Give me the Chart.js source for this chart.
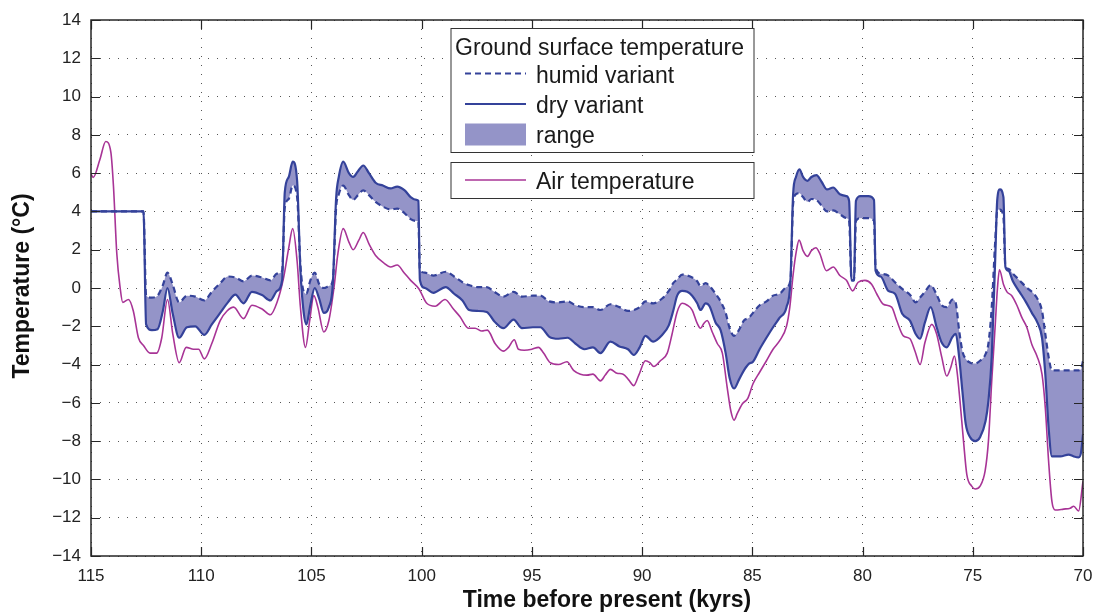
<!DOCTYPE html>
<html>
<head>
<meta charset="utf-8">
<title>Ground surface temperature</title>
<script src="https://cdn.jsdelivr.net/npm/chart.js@4.4.1/dist/chart.umd.min.js"></script>
<style>
  html, body { margin: 0; padding: 0; background: #fff; }
  #wrap { width: 1097px; height: 614px; position: relative; }
</style>
</head>
<body>
<div id="wrap"><canvas id="tempChart"></canvas></div>
<script>
// kyrs before present, shared by both ground surface variants
const groundX = [115, 112.62, 112.5, 112.24, 111.98, 111.74, 111.53, 111.30, 111.0, 110.65,
    110.27, 109.86, 109.52, 109.14, 108.79, 108.45, 108.08, 107.70, 107.24, 106.86,
    106.56, 106.33, 106.21, 106.03, 105.85, 105.65, 105.5, 105.35, 105.23, 105.05,
    104.85, 104.65, 104.44, 104.21, 104.03, 103.88, 103.76, 103.56, 103.30, 103.11,
    102.89, 102.65, 102.39, 102.09, 101.76, 101.41, 101.11, 100.77, 100.5, 100.23,
    100.15, 100.08, 99.85, 99.47, 98.91, 98.53, 98.15, 97.85, 97.47, 97.05,
    96.70, 96.29, 95.83, 95.45, 94.95, 94.62, 94.21, 93.79, 93.38, 93.03,
    92.62, 92.23, 91.89, 91.44, 91.03, 90.64, 90.38, 90.11, 89.85, 89.5,
    89.09, 88.79, 88.59, 88.41, 88.18, 87.95, 87.73, 87.5, 87.35, 87.12,
    86.94, 86.67, 86.44, 86.21, 86.03, 85.83, 85.61, 85.38, 85.15, 84.97,
    84.67, 84.36, 84.06, 83.76, 83.45, 83.27, 83.15, 83.02, 82.86, 82.70,
    82.5, 82.32, 82.09, 81.86, 81.61, 81.33, 81.03, 80.73, 80.61, 80.5,
    80.39, 80.30, 80.09, 79.74, 79.48, 79.41, 79.18, 78.83, 78.53, 78.20,
    77.85, 77.59, 77.39, 77.17, 76.91, 76.64, 76.41, 76.18, 75.92, 75.77,
    75.62, 75.47, 75.32, 75.12, 74.89, 74.67, 74.42, 74.29, 74.14, 73.98,
    73.89, 73.77, 73.61, 73.52, 73.38, 73.18, 72.88, 72.58, 72.32, 72.05,
    71.86, 71.71, 71.56, 71.41, 71.03, 70.65, 70.42, 70.20, 70.09, 70.0];

const dryVariant = [4, 4, -1.9, -2.2, -2.15, -1.2, 0.0, -1.3, -2.6, -2.05,
    -2.0, -2.45, -1.9, -1.3, -0.75, -0.35, -0.8, -0.2, -0.37, -0.65,
    -0.15, 0.4, 5.0, 5.8, 6.6, 5.6, 0.9, -1.3, -1.9, -0.9,
    0.0, -0.55, -1.3, -1.0, 0.2, 4.7, 5.8, 6.6, 6.0, 5.8,
    6.1, 6.4, 6.0, 5.5, 5.35, 5.2, 5.3, 5.1, 4.75, 4.6,
    4.55, 0.4, 0.0, -0.25, 0.05, -0.3, -0.65, -1.15, -1.2, -1.25,
    -1.75, -2.1, -1.65, -2.1, -2.05, -2.05, -2.55, -2.65, -2.6, -2.9,
    -3.2, -3.1, -3.4, -2.8, -3.05, -3.2, -3.5, -3.1, -2.5, -2.8,
    -2.45, -1.95, -1.2, -0.4, -0.15, -0.2, -0.4, -0.8, -1.15, -0.8,
    -0.95, -1.8, -2.2, -3.4, -4.7, -5.25, -4.8, -4.3, -3.95, -3.85,
    -3.2, -2.6, -2.05, -1.55, -1.0, 0.4, 4.9, 5.8, 6.2, 5.8,
    5.6, 5.8, 5.9, 5.55, 5.15, 5.25, 4.9, 4.8, 4.55, 0.4,
    0.4, 4.55, 4.8, 4.8, 4.6, 0.9, 0.6, -0.15, -0.3, -1.35,
    -1.7, -2.4, -2.65, -1.8, -1.0, -2.05, -2.85, -3.1, -2.55, -2.4,
    -3.6, -5.4, -7.1, -7.8, -8.0, -7.8, -6.95, -5.9, -3.6, 1.6,
    4.6, 5.15, 4.75, 1.1, 0.9, 0.35, -0.2, -0.75, -1.3, -1.85,
    -2.6, -4.5, -7.3, -8.8, -8.8, -8.7, -8.8, -8.85, -8.6, -7.65];

const humidVariant = [4, 4, -0.4, -0.5, -0.4, 0.15, 0.8, 0.2, -0.75, -0.4,
    -0.45, -0.65, -0.2, 0.25, 0.6, 0.55, 0.35, 0.65, 0.55, 0.4,
    0.75, 0.9, 4.2, 4.65, 5.35, 4.75, 1.2, -0.2, -0.3, 0.4,
    0.8, 0.2, 0.0, 0.1, 0.4, 4.2, 4.9, 5.35, 4.85, 4.6,
    4.85, 5.1, 4.85, 4.5, 4.25, 4.1, 4.15, 3.9, 3.6, 3.5,
    3.45, 0.95, 0.8, 0.65, 0.85, 0.6, 0.3, 0.15, 0.05, 0.05,
    -0.2, -0.45, -0.2, -0.45, -0.4, -0.4, -0.7, -0.75, -0.7, -0.9,
    -1.0, -1.0, -1.15, -0.85, -1.0, -1.2, -1.15, -1.0, -0.7, -0.8,
    -0.55, -0.15, 0.25, 0.45, 0.7, 0.65, 0.55, 0.35, 0.1, 0.25,
    0.1, -0.3, -0.7, -1.3, -2.1, -2.5, -2.2, -1.7, -1.55, -1.3,
    -0.9, -0.7, -0.4, -0.3, 0.05, 0.4, 4.4, 4.9, 4.95, 4.75,
    4.5, 4.65, 4.6, 4.3, 4.0, 4.05, 3.85, 3.65, 3.5, 0.4,
    0.4, 3.5, 3.65, 3.65, 3.5, 1.1, 0.75, 0.65, 0.3, -0.05,
    -0.35, -0.75, -0.5, -0.2, 0.15, -0.35, -0.9, -1.0, -0.6, -0.8,
    -2.2, -3.3, -3.7, -3.9, -3.95, -3.8, -3.45, -2.9, -1.0, 2.5,
    4.05, 4.1, 3.7, 1.1, 1.0, 0.75, 0.4, 0.05, -0.2, -0.6,
    -1.2, -2.4, -3.6, -4.3, -4.3, -4.3, -4.3, -4.3, -4.25, -3.8];

const airX = [115, 114.9, 114.6, 114.33, 114.1, 113.98, 113.83, 113.68, 113.56, 113.3,
    113.08, 112.85, 112.62, 112.32, 112.02, 111.79, 111.53, 111.29, 111.0, 110.68,
    110.35, 110.12, 109.86, 109.52, 109.14, 108.83, 108.53, 108.08, 107.70, 107.24,
    106.86, 106.56, 106.26, 106.03, 105.85, 105.65, 105.5, 105.27, 105.08, 104.89,
    104.71, 104.44, 104.21, 103.98, 103.8, 103.56, 103.3, 103.11, 102.85, 102.65,
    102.39, 102.09, 101.71, 101.41, 101.11, 100.8, 100.5, 100.12, 99.77, 99.39,
    98.94, 98.56, 98.26, 97.88, 97.58, 97.27, 97.02, 96.67, 96.29, 96.06,
    95.8, 95.61, 95.35, 95.0, 94.7, 94.47, 94.17, 93.79, 93.41, 93.11,
    92.8, 92.5, 92.23, 91.89, 91.67, 91.44, 91.14, 90.86, 90.61, 90.38,
    90.15, 89.85, 89.65, 89.47, 89.17, 88.86, 88.64, 88.41, 88.18, 87.95,
    87.73, 87.5, 87.35, 87.2, 87.05, 86.82, 86.59, 86.36, 86.14, 85.98,
    85.83, 85.68, 85.45, 85.2, 84.97, 84.67, 84.36, 84.06, 83.76, 83.45,
    83.3, 83.15, 83.0, 82.88, 82.7, 82.5, 82.32, 82.12, 81.94, 81.64,
    81.33, 81.03, 80.73, 80.45, 80.2, 79.89, 79.59, 79.36, 79.06, 78.68,
    78.45, 78.15, 77.85, 77.62, 77.39, 77.17, 76.86, 76.64, 76.41, 76.18,
    76.0, 75.83, 75.7, 75.58, 75.42, 75.27, 75.05, 74.89, 74.67, 74.44,
    74.29, 74.14, 73.98, 73.88, 73.79, 73.61, 73.45, 73.23, 73.0, 72.77,
    72.55, 72.32, 72.09, 71.86, 71.71, 71.56, 71.41, 71.26, 70.88, 70.58,
    70.42, 70.2, 70.0];

const airTemp = [5.95, 5.78, 6.7, 7.65, 7.1, 5.3, 1.8, 0.03, -0.75, -0.6,
    -1.2, -2.6, -3.0, -3.4, -3.4, -2.6, -0.6, -2.4, -3.9, -3.1,
    -3.2, -3.2, -3.7, -2.9, -1.7, -1.2, -1.0, -1.6, -0.9, -1.1,
    -1.4, -0.75, 0.56, 2.1, 3.1, 1.4, -1.0, -3.1, -1.7, -0.4,
    -1.0, -2.3, -1.7, 0.0, 1.8, 3.1, 2.4, 2.0, 2.5, 2.9,
    2.3, 1.7, 1.3, 1.1, 1.2, 0.8, 0.4, -0.05, -0.8, -0.95,
    -0.6, -1.1, -1.5, -2.1, -2.1, -2.25, -2.2, -2.9, -3.3, -3.1,
    -2.7, -3.2, -3.25, -3.2, -3.1, -3.4, -3.9, -4.0, -3.85, -4.3,
    -4.5, -4.55, -4.5, -4.85, -4.55, -4.25, -4.45, -4.5, -4.8, -5.1,
    -4.55, -3.8, -3.9, -4.1, -3.8, -3.4, -2.4, -1.25, -0.8, -0.9,
    -1.15, -1.85, -2.1, -1.85, -1.7, -2.3, -2.9, -3.4, -5.2, -6.4,
    -6.9, -6.55, -6.05, -5.75, -5.0, -4.4, -3.8, -3.2, -2.75, -2.0,
    -1.0, 0.7, 1.95, 2.5, 1.95, 1.65, 1.95, 2.1, 1.8, 0.9,
    1.1, 0.65, 0.4, -0.15, 0.3, 0.4, 0.2, -0.3, -0.85, -1.0,
    -1.7, -2.5, -2.65, -3.3, -4.0, -2.85, -1.9, -2.4, -3.6, -4.6,
    -4.15, -3.55, -4.5, -5.9, -8.0, -9.75, -10.35, -10.5, -10.35, -9.55,
    -8.0, -4.85, -1.9, 0.0, 0.95, 0.2, -0.2, -0.4, -0.9, -1.55,
    -2.05, -2.95, -3.55, -4.5, -6.25, -9.05, -11.15, -11.6, -11.55, -11.5,
    -11.4, -11.65, -10.1];

const xTicks = [115, 110, 105, 100, 95, 90, 85, 80, 75, 70];
const yTicks = [-14, -12, -10, -8, -6, -4, -2, 0, 2, 4, 6, 8, 10, 12, 14];

const blue = "rgb(52, 66, 154)";
const rangeFill = "rgb(148, 148, 200)";
const magenta = "rgb(168, 52, 150)";
const font = '"Liberation Sans", Arial, sans-serif';

function pairs(xs, ys) {
    return xs.map((x, i) => ({ x: x, y: ys[i] }));
}

// box, inward ticks, axis titles and the two legend boxes (MATLAB style)
const framePlugin = {
    id: "frame",
    afterDraw(chart) {
        const ctx = chart.ctx;
        const a = chart.chartArea;
        const xs = chart.scales.x, ys = chart.scales.y;
        ctx.save();
        ctx.strokeStyle = "#262626";
        ctx.lineWidth = 1.5;
        ctx.strokeRect(a.left, a.top, a.right - a.left, a.bottom - a.top);
        ctx.lineWidth = 1.2;
        ctx.beginPath();
        xTicks.forEach(function (v) {
            const px = Math.round(xs.getPixelForValue(v)) + 0.5;
            ctx.moveTo(px, a.bottom); ctx.lineTo(px, a.bottom - 9);
            ctx.moveTo(px, a.top); ctx.lineTo(px, a.top + 9);
        });
        yTicks.forEach(function (v) {
            const py = Math.round(ys.getPixelForValue(v)) + 0.5;
            ctx.moveTo(a.left, py); ctx.lineTo(a.left + 9, py);
            ctx.moveTo(a.right, py); ctx.lineTo(a.right - 9, py);
        });
        ctx.stroke();

        // axis titles
        ctx.fillStyle = "#111";
        ctx.font = "bold 23px " + font;
        ctx.textAlign = "center";
        ctx.textBaseline = "middle";
        ctx.fillText("Time before present (kyrs)", 607, 601);
        ctx.save();
        ctx.translate(23, 286);
        ctx.rotate(-Math.PI / 2);
        ctx.fillText("Temperature (\u00b0C)", 0, 0);
        ctx.restore();

        // legend
        ctx.fillStyle = "#fff";
        ctx.fillRect(451, 28.5, 303, 124);
        ctx.fillRect(451, 162.5, 303, 36);
        ctx.strokeStyle = "#333";
        ctx.lineWidth = 1;
        ctx.strokeRect(451, 28.5, 303, 124);
        ctx.strokeRect(451, 162.5, 303, 36);

        ctx.font = "23px " + font;
        ctx.textAlign = "left";
        ctx.textBaseline = "alphabetic";
        ctx.fillStyle = "#1a1a1a";
        ctx.fillText("Ground surface temperature", 455, 54.5);
        ctx.fillText("humid variant", 536, 82.5);
        ctx.fillText("dry variant", 536, 112.5);
        ctx.fillText("range", 536, 143);
        ctx.fillText("Air temperature", 536, 188.5);

        ctx.lineWidth = 2.2;
        ctx.strokeStyle = blue;
        ctx.setLineDash([6, 4]);
        ctx.beginPath(); ctx.moveTo(465, 73.5); ctx.lineTo(526, 73.5); ctx.stroke();
        ctx.setLineDash([]);
        ctx.beginPath(); ctx.moveTo(465, 104); ctx.lineTo(526, 104); ctx.stroke();
        ctx.fillStyle = rangeFill;
        ctx.fillRect(465, 123.5, 61, 22);
        ctx.strokeStyle = magenta;
        ctx.lineWidth = 1.6;
        ctx.beginPath(); ctx.moveTo(465, 180); ctx.lineTo(526, 180); ctx.stroke();
        ctx.restore();
    }
};

const ctx = document.getElementById("tempChart").getContext("2d");
new Chart(ctx, {
    type: "line",
    data: {
        datasets: [
            {
                label: "humid variant",
                data: pairs(groundX, humidVariant),
                borderColor: blue,
                borderWidth: 2.2,
                borderDash: [6, 4],
                fill: false,
            },
            {
                label: "dry variant",
                data: pairs(groundX, dryVariant),
                borderColor: blue,
                borderWidth: 2.2,
                backgroundColor: rangeFill,
                fill: "-1",
            },
            {
                label: "Air temperature",
                data: pairs(airX, airTemp),
                borderColor: magenta,
                borderWidth: 1.6,
                fill: false,
            },
        ],
    },
    options: {
        responsive: true,
        maintainAspectRatio: false,
        animation: false,
        layout: { padding: { left: 0, right: 14, top: 20, bottom: 0 } },
        elements: {
            point: { radius: 0, hoverRadius: 0 },
            line: { cubicInterpolationMode: "monotone", borderJoinStyle: "round" },
        },
        plugins: {
            legend: { display: false },
            tooltip: { enabled: false },
            title: { display: false },
        },
        scales: {
            x: {
                type: "linear",
                reverse: true,
                min: 70,
                max: 115,
                afterFit: function (scale) {
                    scale.height = 58;
                    scale.paddingLeft = 0;
                    scale.paddingRight = 0;
                },
                afterBuildTicks: function (scale) {
                    scale.ticks = xTicks.map((v) => ({ value: v }));
                },
                ticks: {
                    color: "#222",
                    padding: 10,
                    font: { family: font, size: 17 },
                },
                grid: { color: "#555", lineWidth: 1, drawTicks: false },
                border: { display: false, dash: [1, 8] },
            },
            y: {
                min: -14,
                max: 14,
                afterFit: function (scale) {
                    scale.width = 91;
                    scale.paddingTop = 0;
                    scale.paddingBottom = 0;
                },
                afterBuildTicks: function (scale) {
                    scale.ticks = yTicks.map((v) => ({ value: v }));
                },
                ticks: {
                    color: "#222",
                    padding: 10,
                    font: { family: font, size: 17 },
                    callback: function (value) {
                        return String(value).replace("-", "\u2212");
                    },
                },
                grid: { color: "#555", lineWidth: 1, drawTicks: false },
                border: { display: false, dash: [1, 8] },
            },
        },
    },
    plugins: [framePlugin],
});
</script>
</body>
</html>
